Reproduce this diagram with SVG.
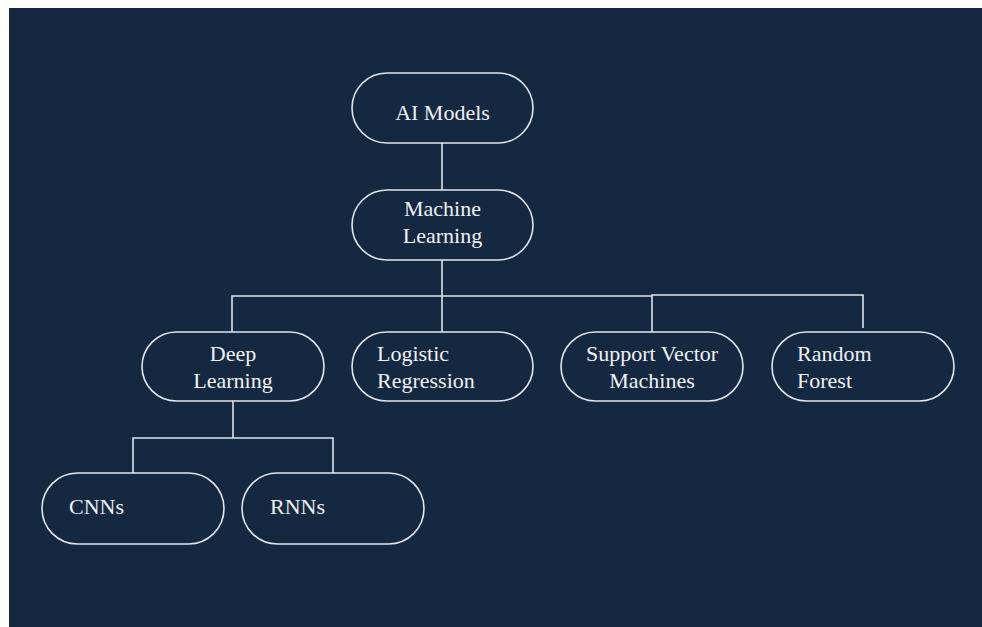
<svg xmlns="http://www.w3.org/2000/svg" width="982" height="627" viewBox="0 0 982 627">
<style>
.node rect{fill:none;stroke:#e4e6ea;stroke-width:1.6}
.node text{font-family:'Liberation Serif',serif;font-size:22px;fill:#f2f2f2}
.c{text-anchor:middle}
#connectors path{fill:none;stroke:#dfe2e6;stroke-width:1.6}
</style>
<rect x="0" y="0" width="982" height="627" fill="#ffffff"/>
<rect x="9" y="8" width="973" height="619" fill="#152842"/>
<g id="connectors">
<path d="M442 143V190"/>
<path d="M442 260V332"/>
<path d="M232 332V296H652V332"/>
<path d="M652 296V295H863V328"/>
<path d="M233 401V438"/>
<path d="M133 473V438H333V473"/>
</g>
<g font-family="Liberation Serif, serif">
<g id="ai-models" class="node"><rect x="352" y="73" width="181" height="70" rx="35"/><text class="c" x="442.5" y="120">AI Models</text></g>
<g id="machine-learning" class="node"><rect x="352" y="190" width="181" height="70" rx="35"/><text class="c" x="442.5" y="216">Machine</text><text class="c" x="442.5" y="243">Learning</text></g>
<g id="deep-learning" class="node"><rect x="142" y="332" width="182" height="69" rx="34.5"/><text class="c" x="233" y="361">Deep</text><text class="c" x="233" y="388">Learning</text></g>
<g id="logistic-regression" class="node"><rect x="352" y="332" width="181" height="69" rx="34.5"/><text x="377" y="361">Logistic</text><text x="377" y="388">Regression</text></g>
<g id="svm" class="node"><rect x="561" y="332" width="182" height="69" rx="34.5"/><text class="c" x="652" y="361">Support Vector</text><text class="c" x="652" y="388">Machines</text></g>
<g id="random-forest" class="node"><rect x="772" y="332" width="182" height="69" rx="34.5"/><text x="797" y="361">Random</text><text x="797" y="388">Forest</text></g>
<g id="cnns" class="node"><rect x="42" y="473" width="182" height="71" rx="35.5"/><text x="69" y="514">CNNs</text></g>
<g id="rnns" class="node"><rect x="242" y="473" width="182" height="71" rx="35.5"/><text x="270" y="514">RNNs</text></g>
</g>
</svg>
